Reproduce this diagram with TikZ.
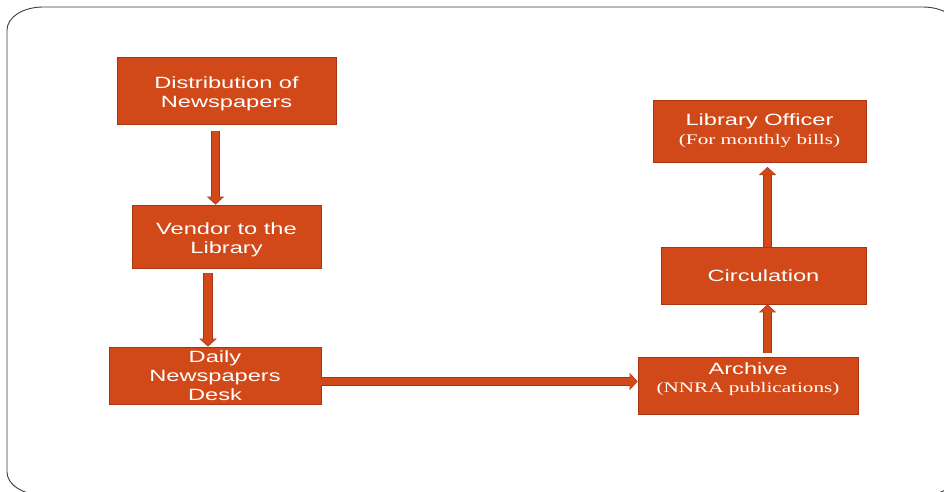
\documentclass[tikz,border=0pt]{standalone}
\usepackage{fontspec}
\usetikzlibrary{arrows.meta}
\newfontfamily\boxsans[FakeStretch=1.45]{Liberation Sans}
\newfontfamily\boxserif[FakeStretch=1.45]{Liberation Serif}
\definecolor{boxfill}{RGB}{209,73,25}
\definecolor{boxedge}{RGB}{170,52,16}
\definecolor{framec}{RGB}{60,60,60}
\newcommand{\mainline}{\boxsans\fontsize{16.3}{18.8}\selectfont}
\newcommand{\subline}[1]{{\boxserif\fontsize{14.6}{16}\selectfont #1}}
\tikzset{
  stepbox/.style={draw=boxedge, fill=boxfill, line width=0.8pt, text=white,
    align=center, inner sep=0pt, font=\mainline},
  lowtext/.style={text height=33pt, text depth=0pt},
  blockarr/.style={draw=boxfill, line width=7.8pt, shorten >=1pt,
    -{Triangle[width=15pt,length=6.5pt,line width=0pt]},
    preaction={draw=boxedge, line width=9.6pt, shorten >=0pt,
      -{Triangle[width=17.5pt,length=8pt,line width=0pt]}}}
}
\begin{document}
\begin{tikzpicture}[x=1pt,y=-1pt]
\useasboundingbox (0,0) rectangle (944,491);
\clip (0,0) rectangle (944,491);
% slide frame with rounded corners
\draw[framec, line width=0.9pt]
  (7,30) .. controls (7,17.3) and (23.1,7) .. (43,7) -- (923,7)
  .. controls (942.9,7) and (959,17.3) .. (959,30) -- (959,472)
  .. controls (959,484.7) and (942.9,495) .. (923,495) -- (43,495)
  .. controls (23.1,495) and (7,484.7) .. (7,472) -- cycle;

% left column
\node[stepbox, lowtext, minimum width=219pt, minimum height=67pt] (dist) at (226.5,90.5)
  {Distribution of\\Newspapers};
\node[stepbox, lowtext, minimum width=189pt, minimum height=63pt] (vendor) at (226.5,236.5)
  {Vendor to the\\Library};
\node[stepbox, minimum width=212pt, minimum height=57pt] (desk) at (215,375.5)
  {Daily\\Newspapers\\Desk};

% right column
\node[stepbox, minimum width=220pt, minimum height=57pt, text depth=16pt] (archive) at (748,385.5)
  {Archive\\\subline{(NNRA publications)}};
\node[stepbox, minimum width=205pt, minimum height=57pt] (circ) at (763.5,275.5)
  {Circulation};
\node[stepbox, minimum width=213pt, minimum height=62pt] (officer) at (759.5,131)
  {Library Officer\\\subline{(For monthly bills)}};

% connector anchors
\coordinate (a1) at (215.5,131);
\coordinate (a2) at (208,273);
\coordinate (a3) at (0,381.5);
\coordinate (a4) at (767.5,353);
\coordinate (a5) at (767.5,167);

\draw[blockarr] (a1) -- (a1 |- vendor.north);
\draw[blockarr] (a2) -- (a2 |- desk.north);
\draw[blockarr] (desk.east |- a3) -- (archive.west |- a3);
\draw[blockarr] (a4) -- (a4 |- circ.south);
\draw[blockarr] (a4 |- circ.north) -- (a5);
\end{tikzpicture}
\end{document}
